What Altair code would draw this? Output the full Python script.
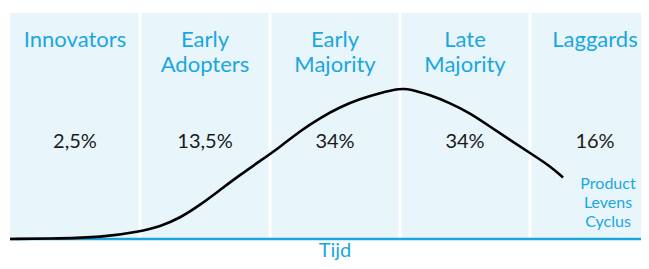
import altair as alt
import pandas as pd

# Column headers (two lines) and shares
header1 = ["Innovators", "Early", "Early", "Late", "Laggards"]
header2 = ["", "Adopters", "Majority", "Majority", ""]
shares = ["2,5%", "13,5%", "34%", "34%", "16%"]

# Curve (x in column units, y = height above baseline)
curve_x = [0.0, 0.385, 0.692, 1.0, 1.154, 1.308, 1.462, 1.615, 1.769, 1.923,
           2.077, 2.231, 2.385, 2.538, 2.692, 2.846, 3.0, 3.077, 3.231, 3.385,
           3.538, 3.692, 3.846, 4.0, 4.154, 4.254]
curve_y = [0.0, 0.5, 1.5, 7.5, 12.5, 21, 34, 49, 64, 78,
           92, 108, 121, 132, 140, 146, 150.5, 150, 144, 136,
           126, 112.5, 99, 86, 73, 61.5]

side_label = ["Product", "Levens", "Cyclus"]
axis_label = "Tijd"

BLUE = "#1aa7e0"
BG = "#e8f5fb"
FONT = "Lato"

n = len(header1)
cols = pd.DataFrame({
    "x0": list(range(n)),
    "x1": [i + 1 for i in range(n)],
    "xc": [i + 0.5 for i in range(n)],
    "h1": header1,
    "h2": header2,
    "share": shares,
})
seps = pd.DataFrame({"x": list(range(1, n))})
curve = pd.DataFrame({"x": curve_x, "y": curve_y})
side = pd.DataFrame({"t": side_label, "i": list(range(len(side_label)))})
tijd = pd.DataFrame({"t": [axis_label], "x": [n / 2]})

W = 631
xs = alt.Scale(domain=[0, W / 130], nice=False, zero=False)
ys = alt.Scale(domain=[0, 226], nice=False, zero=False)
X = lambda f: alt.X(f, scale=xs, axis=None)

panels = alt.Chart(cols).mark_rect(color=BG).encode(
    x=X("x0:Q"), x2="x1:Q",
    y=alt.Y("y0:Q", scale=ys, axis=None), y2="y1:Q"
).transform_calculate(y0="1", y1="226")

sep = alt.Chart(seps).mark_rule(color="white", strokeWidth=3).encode(
    x=X("x:Q"), y=alt.value(0), y2=alt.value(225)
)

h1 = alt.Chart(cols).mark_text(font=FONT, fontSize=22, color=BLUE, baseline="middle").encode(
    x=X("xc:Q"), y=alt.value(27), text="h1:N"
)
h2 = alt.Chart(cols).mark_text(font=FONT, fontSize=22, color=BLUE, baseline="middle").encode(
    x=X("xc:Q"), y=alt.value(52), text="h2:N"
)
pct = alt.Chart(cols).mark_text(font=FONT, fontSize=20, color="#1a1a1a", baseline="middle").encode(
    x=X("xc:Q"), y=alt.value(129), text="share:N"
)

base = alt.Chart(tijd).mark_rule(color=BLUE, strokeWidth=2.5).encode(
    x=alt.value(0), x2=alt.value(W), y=alt.value(226)
)

line = alt.Chart(curve).mark_line(color="black", strokeWidth=2.6, interpolate="basis").encode(
    x=X("x:Q"), y=alt.Y("y:Q", scale=ys, axis=None)
)

side_txt = alt.Chart(side).mark_text(font=FONT, fontSize=16, color=BLUE, baseline="middle").encode(
    x=alt.value(598), y=alt.Y("i:Q", scale=alt.Scale(domain=[0, 2], range=[171, 209]), axis=None),
    text="t:N"
)

tijd_txt = alt.Chart(tijd).mark_text(font=FONT, fontSize=20, color=BLUE, baseline="alphabetic").encode(
    x=X("x:Q"), y=alt.value(244), text="t:N"
)

chart = alt.layer(panels, sep, h1, h2, pct, base, line, side_txt, tijd_txt).resolve_scale(
    y="independent"
).properties(
    width=W, height=226,
    autosize=alt.AutoSizeParams(type="none"),
    padding={"left": 2, "top": 5, "right": 0, "bottom": 22},
).configure_view(stroke=None)

chart.save("out.html", embed_options={"renderer": "svg", "actions": False})
